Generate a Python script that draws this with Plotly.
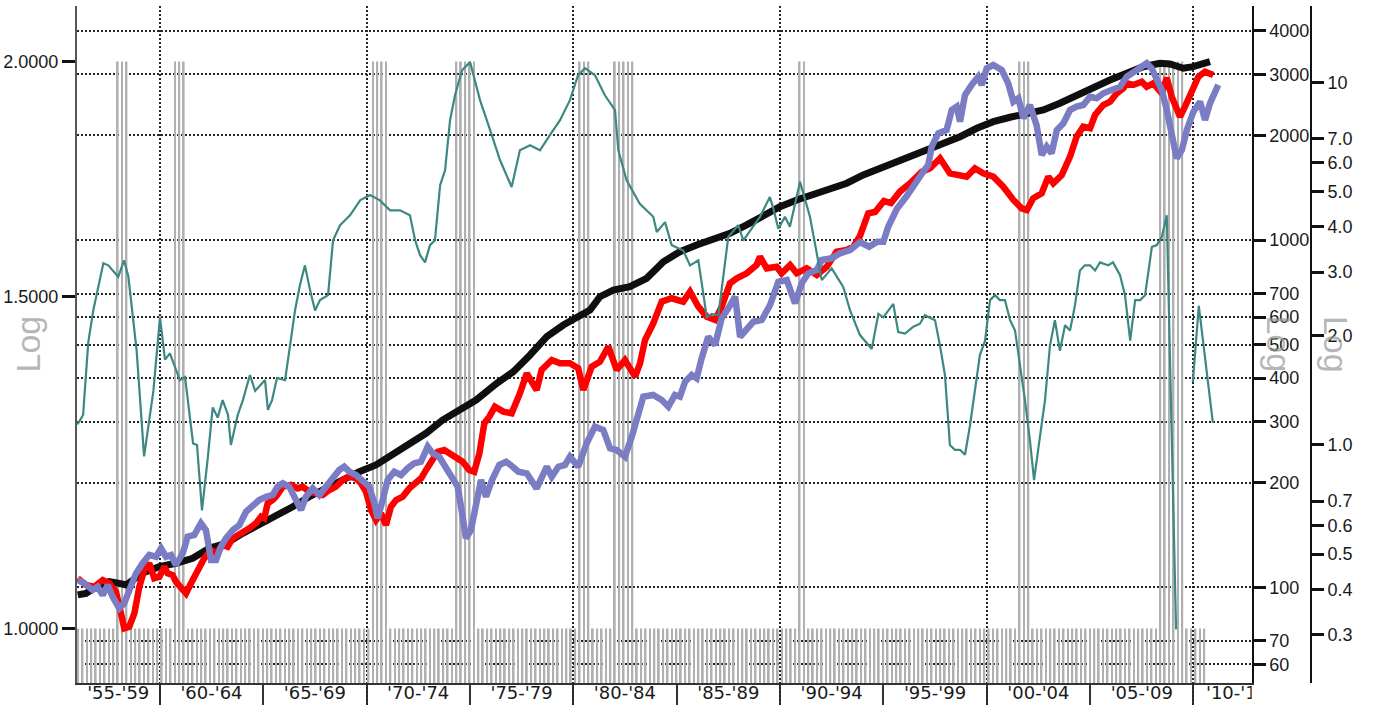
import plotly.graph_objects as go

# ---------------- data ----------------
period_labels = ["'55-'59", "'60-'64", "'65-'69", "'70-'74", "'75-'79", "'80-'84",
                 "'85-'89", "'90-'94", "'95-'99", "'00-'04", "'05-'09", "'10-'14"]
period_label_x = [1957.99, 1962.5, 1967.5, 1972.5, 1977.5, 1982.5,
                  1987.5, 1992.5, 1997.5, 2002.5, 2007.5, 2012.11]

decade_years = [1960, 1970, 1980, 1990, 2000, 2010]
half_decade_years = [1965, 1975, 1985, 1995, 2005]

left_ticks = [1.0, 1.5, 2.0]
left_ticktext = ["1.0000", "1.5000", "2.0000"]
right_ticks = [60, 70, 100, 200, 300, 400, 500, 600, 700, 1000, 2000, 3000, 4000]
outer_ticks = [0.3, 0.4, 0.5, 0.6, 0.7, 1.0, 2.0, 3.0, 4.0, 5.0, 6.0, 7.0, 10.0]
outer_ticktext = ["0.3", "0.4", "0.5", "0.6", "0.7", "1.0", "2.0", "3.0", "4.0", "5.0", "6.0", "7.0", "10"]

# indicator bars (left axis): 1.0 normally, 2.0 inside the shaded periods
recession_start = [1957.95, 1960.70, 1970.10, 1974.25, 1980.22, 1982.00, 1990.90, 2001.50, 2008.24]
recession_end   = [1958.60, 1961.30, 1971.00, 1975.35, 1980.80, 1983.00, 1991.25, 2002.05, 2009.60]
indicator_start, indicator_end, indicator_step = 1956.05, 2010.53, 0.2128
normal_level, recession_level = 1.0, 2.0

black = [(1956.03, 95.0), (1956.43, 96.0), (1956.91, 100.3), (1957.56, 103.7), (1958.04, 102.6),
         (1958.37, 101.5), (1959.17, 109.9), (1959.98, 114.6), (1960.78, 117.2), (1961.59, 121.1),
         (1962.39, 129.4), (1963.20, 133.7), (1964.01, 142.9), (1964.81, 151.1), (1965.62, 161.4),
         (1966.43, 170.5), (1967.23, 182.2), (1968.04, 192.6), (1968.85, 205.9), (1969.65, 215.1),
         (1970.46, 224.9), (1971.27, 240.3), (1972.07, 256.7), (1972.88, 277.5), (1973.68, 303.0),
         (1974.49, 323.8), (1975.30, 346.0), (1976.30, 386.6), (1977.10, 417.5), (1977.91, 466.5),
         (1978.72, 526.5), (1979.52, 569.0), (1980.33, 608.1), (1980.81, 628.6), (1981.29, 686.8),
         (1981.94, 717.8), (1982.74, 733.7), (1983.55, 775.7), (1984.36, 866.2), (1985.16, 925.3),
         (1985.97, 967.4), (1986.77, 1000), (1987.58, 1045), (1988.39, 1105), (1989.19, 1180),
         (1990.00, 1247), (1990.81, 1304), (1991.61, 1348), (1992.42, 1409), (1993.23, 1457),
         (1994.03, 1539), (1994.84, 1609), (1995.48, 1650), (1996.45, 1738), (1997.10, 1816),
         (1997.90, 1899), (1998.71, 1984), (1999.52, 2098), (2000.32, 2192), (2001.13, 2257),
         (2001.93, 2317), (2002.74, 2368), (2003.54, 2476), (2004.35, 2616), (2005.16, 2735),
         (2005.96, 2890), (2006.77, 3021), (2007.57, 3156), (2008.38, 3228), (2008.86, 3213),
         (2009.51, 3123), (2009.99, 3156), (2010.80, 3263)]

red = [(1956.03, 106.1), (1956.43, 101.5), (1956.83, 100.3), (1957.24, 104.9), (1957.56, 102.6),
       (1957.88, 97.1), (1958.12, 84.1), (1958.28, 76.1), (1958.52, 76.9), (1958.77, 84.1),
       (1959.01, 100.3), (1959.25, 112.1), (1959.49, 117.2), (1959.73, 106.1), (1959.98, 107.2),
       (1960.22, 114.6), (1960.38, 109.6), (1960.62, 108.4), (1960.78, 103.7), (1961.11, 98.2),
       (1961.27, 96.0), (1961.51, 102.6), (1961.83, 112.1), (1962.15, 121.1), (1962.48, 127.9),
       (1962.72, 125.2), (1963.04, 132.3), (1963.28, 130.8), (1963.53, 138.3), (1964.01, 142.9),
       (1964.33, 147.8), (1964.65, 152.8), (1964.90, 159.6), (1965.05, 157.9), (1965.22, 174.4),
       (1965.46, 178.3), (1965.62, 182.2), (1965.95, 194.8), (1966.35, 197.0), (1966.67, 192.6),
       (1966.91, 194.8), (1967.23, 188.4), (1967.56, 186.4), (1967.88, 184.3), (1968.20, 190.5),
       (1968.52, 194.8), (1968.85, 203.6), (1969.17, 208.1), (1969.49, 205.9), (1969.73, 199.2),
       (1969.97, 188.4), (1970.22, 166.9), (1970.46, 156.2), (1970.70, 163.3), (1970.94, 151.0),
       (1971.18, 170.5), (1971.43, 178.3), (1971.75, 182.2), (1972.07, 192.6), (1972.39, 201.3),
       (1972.64, 205.9), (1972.88, 217.6), (1973.20, 235.1), (1973.44, 245.6), (1973.76, 248.4),
       (1974.00, 243.0), (1974.33, 235.1), (1974.65, 229.8), (1974.97, 217.6), (1975.21, 215.1),
       (1975.46, 243.0), (1975.70, 296.5), (1975.94, 309.8), (1976.21, 331.1), (1976.62, 320.3),
       (1977.02, 316.9), (1977.42, 361.8), (1977.75, 413.0), (1978.23, 369.8), (1978.47, 422.2),
       (1978.96, 451.1), (1979.36, 441.4), (1979.84, 441.4), (1980.24, 427.0), (1980.49, 369.8),
       (1980.89, 431.5), (1981.29, 446.1), (1981.70, 492.8), (1982.10, 422.2), (1982.50, 451.1),
       (1982.99, 404.0), (1983.23, 441.4), (1983.47, 515.2), (1983.87, 575.4), (1984.28, 664.4),
       (1984.76, 679.5), (1985.32, 664.4), (1985.65, 709.8), (1986.05, 642.5), (1986.46, 601.3),
       (1986.86, 588.3), (1987.18, 642.5), (1987.58, 750.3), (1987.91, 775.7), (1988.39, 801.9),
       (1988.87, 847.3), (1989.03, 895.3), (1989.36, 828.7), (1989.84, 837.6), (1990.08, 801.9),
       (1990.49, 847.3), (1990.81, 801.9), (1991.29, 828.7), (1991.78, 793.0), (1992.26, 837.6),
       (1992.74, 925.3), (1993.23, 935.9), (1993.55, 956.5), (1993.87, 1027), (1994.27, 1194),
       (1994.60, 1204), (1995.03, 1295), (1995.37, 1278), (1995.80, 1378), (1996.29, 1457),
       (1996.69, 1539), (1996.86, 1573), (1997.26, 1609), (1997.74, 1719), (1998.22, 1556),
       (1998.71, 1539), (1999.03, 1522), (1999.43, 1609), (1999.83, 1556), (2000.32, 1522),
       (2000.80, 1424), (2001.29, 1304), (2001.69, 1234), (2001.94, 1220), (2002.25, 1319),
       (2002.66, 1363), (2002.98, 1522), (2003.22, 1457), (2003.63, 1539), (2004.03, 1738),
       (2004.35, 1984), (2004.67, 2120), (2005.00, 2098), (2005.24, 2291), (2005.64, 2448),
       (2005.97, 2502), (2006.29, 2646), (2006.61, 2735), (2006.77, 2827), (2007.09, 2796),
       (2007.50, 2857), (2007.74, 2764), (2008.06, 2827), (2008.47, 2646), (2008.71, 2932),
       (2008.95, 2586), (2009.35, 2265), (2009.59, 2421), (2009.92, 2646), (2010.24, 2953),
       (2010.56, 3053), (2010.96, 2987)]

blue = [(1956.03, 104.9), (1956.35, 102.6), (1956.75, 98.2), (1956.99, 100.3), (1957.24, 95.0),
        (1957.48, 101.5), (1957.72, 93.9), (1958.04, 86.9), (1958.28, 89.9), (1958.52, 97.1),
        (1958.85, 109.6), (1959.17, 117.2), (1959.49, 123.8), (1959.82, 122.4), (1960.06, 129.4),
        (1960.30, 122.4), (1960.54, 123.8), (1960.78, 115.9), (1961.11, 125.2), (1961.35, 139.8),
        (1961.67, 141.4), (1961.99, 152.8), (1962.23, 146.1), (1962.48, 119.8), (1962.72, 119.8),
        (1962.96, 130.8), (1963.20, 138.3), (1963.53, 146.1), (1963.85, 151.0), (1964.17, 165.0),
        (1964.49, 172.5), (1964.81, 178.3), (1965.14, 182.2), (1965.46, 184.3), (1965.70, 194.8),
        (1965.95, 199.2), (1966.26, 194.8), (1966.59, 178.3), (1966.83, 166.9), (1967.07, 182.2),
        (1967.40, 192.6), (1967.72, 184.3), (1968.04, 194.8), (1968.36, 203.6), (1968.68, 217.6),
        (1968.92, 222.3), (1969.17, 215.1), (1969.49, 210.4), (1969.81, 201.3), (1970.13, 194.8),
        (1970.38, 174.4), (1970.54, 157.9), (1970.78, 178.3), (1971.02, 203.6), (1971.34, 215.1),
        (1971.67, 210.4), (1971.99, 220.0), (1972.31, 227.5), (1972.63, 229.8), (1972.96, 254.0),
        (1973.20, 243.0), (1973.52, 237.6), (1973.76, 224.9), (1974.09, 210.4), (1974.41, 194.8),
        (1974.65, 159.6), (1974.81, 138.3), (1975.05, 146.1), (1975.30, 174.4), (1975.54, 203.6),
        (1975.78, 182.2), (1976.07, 203.6), (1976.42, 224.9), (1976.75, 229.8), (1977.07, 222.3),
        (1977.34, 215.1), (1977.75, 212.8), (1978.23, 192.6), (1978.72, 222.3), (1978.96, 208.1),
        (1979.28, 222.3), (1979.60, 224.9), (1979.84, 237.6), (1980.24, 222.3), (1980.65, 259.8),
        (1981.05, 290.0), (1981.45, 283.7), (1981.78, 251.2), (1982.10, 248.4), (1982.50, 237.6),
        (1982.83, 271.4), (1983.07, 309.8), (1983.39, 353.7), (1983.87, 357.7), (1984.28, 346.0),
        (1984.60, 331.1), (1984.92, 357.7), (1985.16, 353.7), (1985.41, 390.7), (1985.73, 408.5),
        (1985.97, 399.6), (1986.21, 456.2), (1986.53, 526.5), (1986.86, 498.4), (1987.18, 595.0),
        (1987.50, 635.7), (1987.83, 686.8), (1988.07, 526.5), (1988.39, 550.4), (1988.71, 581.4),
        (1989.12, 588.3), (1989.52, 649.9), (1989.92, 758.3), (1990.33, 766.8), (1990.73, 657.2),
        (1991.05, 750.3), (1991.37, 801.9), (1991.78, 819.8), (1992.02, 875.8), (1992.50, 885.6),
        (1992.90, 915.6), (1993.39, 935.9), (1993.87, 986.8), (1994.31, 956.5), (1994.70, 988.8),
        (1995.00, 988.8), (1995.23, 1090), (1995.65, 1228), (1996.13, 1339), (1996.62, 1489),
        (1996.93, 1573), (1997.17, 1644), (1997.34, 1857), (1997.66, 2029), (1998.06, 2074),
        (1998.31, 2368), (1998.55, 2421), (1998.71, 2192), (1998.95, 2616), (1999.27, 2796),
        (1999.59, 2953), (1999.76, 2796), (2000.00, 3123), (2000.32, 3192), (2000.73, 3088),
        (2001.04, 2827), (2001.29, 2502), (2001.53, 2559), (2001.77, 2241), (2002.09, 2448),
        (2002.41, 2144), (2002.66, 1757), (2002.90, 1857), (2003.14, 1777), (2003.39, 2074),
        (2003.71, 2168), (2004.03, 2368), (2004.35, 2421), (2004.67, 2448), (2005.00, 2586),
        (2005.32, 2559), (2005.64, 2646), (2006.13, 2735), (2006.45, 2764), (2006.77, 2953),
        (2007.09, 3053), (2007.42, 3156), (2007.74, 3228), (2007.98, 3123), (2008.23, 2922),
        (2008.47, 2704), (2008.71, 2368), (2008.95, 2029), (2009.19, 1719), (2009.44, 1816),
        (2009.68, 2074), (2010.00, 2342), (2010.32, 2502), (2010.56, 2216), (2010.80, 2476),
        (2011.20, 2796)]

teal = [(1956.02, 1.14), (1956.29, 1.21), (1956.54, 1.92), (1956.78, 2.35), (1957.27, 3.17),
        (1957.51, 3.13), (1957.99, 2.91), (1958.27, 3.23), (1958.48, 2.91), (1958.88, 1.82),
        (1959.24, 0.93), (1959.69, 1.41), (1960.01, 2.25), (1960.25, 1.72), (1960.49, 1.79),
        (1960.97, 1.51), (1961.22, 1.54), (1961.61, 1.01), (1961.80, 1.00), (1962.04, 0.66),
        (1962.32, 0.92), (1962.56, 1.27), (1962.80, 1.19), (1963.04, 1.33), (1963.30, 1.21),
        (1963.44, 1.00), (1963.77, 1.21), (1964.02, 1.33), (1964.36, 1.56), (1964.61, 1.41),
        (1964.85, 1.46), (1965.09, 1.51), (1965.23, 1.25), (1965.43, 1.33), (1965.67, 1.53),
        (1966.06, 1.51), (1966.30, 1.88), (1966.54, 2.35), (1966.78, 2.76), (1967.02, 3.13),
        (1967.27, 2.67), (1967.51, 2.35), (1967.75, 2.51), (1968.14, 2.59), (1968.38, 3.67),
        (1968.72, 4.04), (1968.96, 4.17), (1969.20, 4.30), (1969.69, 4.73), (1970.17, 4.89),
        (1970.65, 4.73), (1971.14, 4.44), (1971.62, 4.44), (1972.10, 4.30), (1972.35, 3.67),
        (1972.59, 3.34), (1972.83, 3.19), (1973.07, 3.56), (1973.31, 3.67), (1973.56, 5.21),
        (1973.80, 5.73), (1974.04, 7.87), (1974.28, 9.22), (1974.62, 10.81), (1975.01, 11.38),
        (1975.25, 10.15), (1975.49, 8.94), (1975.98, 7.39), (1976.46, 6.10), (1977.02, 5.15),
        (1977.42, 6.50), (1977.91, 6.71), (1978.39, 6.50), (1978.87, 7.16), (1979.36, 7.87),
        (1979.84, 8.94), (1980.23, 10.47), (1980.57, 10.95), (1981.05, 10.47), (1981.53, 9.22),
        (1982.02, 8.39), (1982.18, 6.50), (1982.58, 5.37), (1983.22, 4.63), (1983.87, 4.26),
        (1984.04, 3.87), (1984.44, 4.12), (1984.76, 3.56), (1985.32, 3.44), (1985.65, 3.13),
        (1986.05, 3.23), (1986.46, 2.25), (1986.70, 2.30), (1987.02, 2.28), (1987.50, 3.75),
        (1987.98, 4.04), (1988.23, 3.67), (1988.63, 3.95), (1989.03, 4.26), (1989.51, 4.83),
        (1989.68, 4.49), (1989.92, 3.95), (1990.24, 4.26), (1990.48, 4.00), (1990.97, 5.32),
        (1991.45, 4.26), (1991.78, 3.37), (1992.02, 2.85), (1992.50, 3.07), (1993.06, 2.73),
        (1993.39, 2.35), (1993.87, 2.01), (1994.44, 1.84), (1994.76, 2.30), (1995.00, 2.25),
        (1995.48, 2.45), (1995.72, 2.05), (1996.05, 2.03), (1996.45, 2.12), (1996.77, 2.16),
        (1997.01, 2.28), (1997.50, 2.21), (1997.74, 1.88), (1997.98, 1.56), (1998.22, 1.00),
        (1998.46, 0.97), (1998.71, 0.97), (1998.95, 0.94), (1999.19, 1.13), (1999.43, 1.41),
        (1999.67, 1.77), (1999.92, 1.94), (2000.16, 2.51), (2000.40, 2.59), (2000.64, 2.51),
        (2000.88, 2.51), (2001.13, 2.21), (2001.37, 2.07), (2001.61, 1.66), (2001.85, 1.33),
        (2002.09, 1.03), (2002.29, 0.80), (2002.58, 1.06), (2002.82, 1.33), (2003.06, 1.88),
        (2003.30, 2.21), (2003.54, 1.82), (2003.79, 2.14), (2004.03, 2.07), (2004.27, 2.43),
        (2004.51, 3.03), (2004.75, 3.13), (2005.00, 3.13), (2005.24, 3.03), (2005.48, 3.19),
        (2005.87, 3.13), (2006.11, 3.19), (2006.45, 2.94), (2006.69, 2.59), (2006.94, 1.94),
        (2007.18, 2.51), (2007.42, 2.51), (2007.66, 2.59), (2007.99, 3.52), (2008.23, 3.56),
        (2008.47, 3.75), (2008.71, 4.30), (2009.16, 0.31), (2009.50, None), (2009.97, 1.49),
        (2010.26, 2.42), (2010.94, 1.15)]

# ---------------- figure ----------------
GRID = "#262626"
TICKFONT = dict(family="Liberation Sans", size=18, color="#1a1a1a")

n_ind = int(round((indicator_end - indicator_start) / indicator_step)) + 1
ind_x = [indicator_start + i * indicator_step for i in range(n_ind)]
ind_x = [t for t in ind_x if t <= indicator_end]
ind_y = [recession_level if any(s <= t <= e for s, e in zip(recession_start, recession_end))
         else normal_level for t in ind_x]

fig = go.Figure()
fig.add_trace(go.Bar(x=ind_x, y=ind_y, width=0.085, marker=dict(color="#b0b0b0", line=dict(width=0)),
                     xaxis="x", yaxis="y", hoverinfo="skip"))

def add_line(series, color, width, axis):
    fig.add_trace(go.Scatter(x=[p[0] for p in series], y=[p[1] for p in series], mode="lines",
                             line=dict(color=color, width=width), xaxis="x", yaxis=axis,
                             connectgaps=False, hoverinfo="skip"))

add_line(black, "#0f0f0f", 7, "y2")
add_line(red, "#ff0000", 6.5, "y2")
add_line(blue, "#7b7dc4", 6.5, "y2")
add_line(teal, "#3d8882", 2.2, "y3")

fig.add_trace(go.Scatter(x=period_label_x, y=[0.5] * len(period_labels), mode="text",
                         text=period_labels, textposition="middle center",
                         textfont=dict(family="DejaVu Sans", size=18, color="#1a1a1a"),
                         xaxis="x", yaxis="y4", cliponaxis=True, hoverinfo="skip"))

XDOM = 0.95194
YLOW = 22 / 699

fig.update_layout(
    width=1376, height=705,
    margin=dict(l=77, r=65, t=6, b=0, pad=0),
    paper_bgcolor="white", plot_bgcolor="white",
    showlegend=False, barmode="overlay", hovermode=False,
    xaxis=dict(domain=[0, XDOM], range=[1955.995, 2012.818], anchor="y",
               tickmode="array", tickvals=decade_years, ticks="outside", ticklen=22,
               tickwidth=1.5, tickcolor="#333", showticklabels=False,
               showgrid=True, gridcolor=GRID, gridwidth=2, griddash="2px,2px",
               minor=dict(tickmode="array", tickvals=half_decade_years, ticks="outside",
                          ticklen=22, tickwidth=1.5, tickcolor="#333", showgrid=False),
               showline=True, linecolor="#333", linewidth=2, zeroline=False),
    yaxis=dict(domain=[YLOW, 1], anchor="x", type="log", range=[-0.02888, 0.33056],
               tickmode="array", tickvals=left_ticks, ticktext=left_ticktext,
               ticks="outside", ticklen=13, tickwidth=3, tickcolor="#111", tickfont=TICKFONT,
               showgrid=False, showline=True, linecolor="#555", linewidth=2, zeroline=False),
    yaxis2=dict(overlaying="y", side="right", anchor="x", type="log", range=[1.72408, 3.67396],
                tickmode="array", tickvals=right_ticks, ticks="outside", ticklen=12, tickwidth=3,
                tickcolor="#111", tickfont=TICKFONT,
                showgrid=True, gridcolor=GRID, gridwidth=2, griddash="2px,2px",
                showline=True, linecolor="#111", linewidth=2, zeroline=False),
    yaxis3=dict(overlaying="y", side="right", anchor="free", position=1.0, type="log",
                range=[-0.6566, 1.2110], tickmode="array", tickvals=outer_ticks,
                ticktext=outer_ticktext, ticks="outside", ticklen=12, tickwidth=3,
                tickcolor="#111", tickfont=TICKFONT, showgrid=False,
                showline=True, linecolor="#111", linewidth=2, zeroline=False),
    yaxis4=dict(domain=[0, YLOW], anchor="x", range=[0, 1], visible=False, fixedrange=True),
)

title_font = dict(family="Liberation Sans", size=34, color="rgba(150,150,150,0.7)")
for xp, ang in [(-0.0401, -90), (0.9737, 90), (1.0203, 90)]:
    fig.add_annotation(text="Log", xref="paper", yref="paper", x=xp, y=0.5165,
                       xanchor="center", yanchor="middle", textangle=ang,
                       showarrow=False, font=title_font)

fig.write_html("out.html")
